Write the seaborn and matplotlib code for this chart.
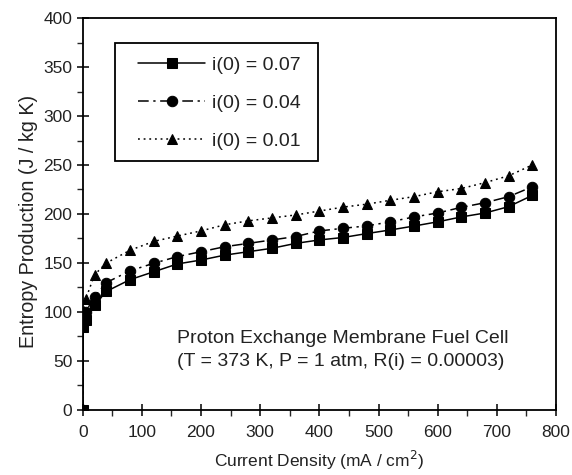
import numpy as np
import pandas as pd
import matplotlib
matplotlib.use("Agg")
import matplotlib.pyplot as plt
import seaborn as sns
from matplotlib.ticker import MultipleLocator
from matplotlib.patches import Rectangle

current_density = [0, 1, 5, 20, 40, 80, 120, 160, 200, 240, 280, 320, 360,
                   400, 440, 480, 520, 560, 600, 640, 680, 720, 760]
entropy_007 = [0, 85, 92, 107, 121, 133, 141, 149, 153, 158, 161.5, 165, 170,
               173.5, 176, 180, 183.7, 187.7, 192, 197, 201, 207.5, 219]
entropy_004 = [0, 88, 100, 115.6, 130, 142, 149.7, 156.5, 161.5, 166.6, 170, 173.5, 177,
               182.7, 185.4, 187.8, 192, 197, 201, 206.8, 211.5, 217.7, 227.8]
entropy_001 = [0, 100, 113, 138, 150, 163, 172, 177.5, 182.7, 189, 193, 196, 199,
               203, 207, 210, 214, 217.7, 222.7, 226, 232, 239, 250]
series_labels = ["i(0) = 0.07", "i(0) = 0.04", "i(0) = 0.01"]

sns.set_style("ticks")
plt.rcParams["font.family"] = ["Liberation Sans", "DejaVu Sans"]

fig = plt.figure(figsize=(5.72, 4.75), dpi=100)
ax = fig.add_axes([0.1446, 0.137, 0.8274, 0.825])

styles = [("s", "-"), ("o", (0, (7, 3, 1.5, 3))), ("^", (0, (1.2, 2.5)))]
for ys, lab, (mk, ls) in zip([entropy_007, entropy_004, entropy_001], series_labels, styles):
    df = pd.DataFrame({"x": current_density, "y": ys})
    sns.lineplot(data=df, x="x", y="y", ax=ax, color="black", marker=mk,
                 linestyle=ls, linewidth=1.1, markersize=7.5, markeredgecolor="black",
                 label=lab, estimator=None, sort=False)

ax.set_xlim(0, 800)
ax.set_ylim(0, 400)
ax.xaxis.set_major_locator(MultipleLocator(100))
ax.xaxis.set_minor_locator(MultipleLocator(50))
ax.yaxis.set_major_locator(MultipleLocator(50))
ax.yaxis.set_minor_locator(MultipleLocator(25))
ax.tick_params(which="major", direction="inout", length=9, width=1.1, labelsize=12.5,
               colors="black", labelcolor="#222222")
ax.tick_params(axis="x", which="major", pad=6)
ax.tick_params(axis="y", which="major", pad=3)
ax.tick_params(which="minor", direction="out", length=4.5, width=1.0)
for s in ax.spines.values():
    s.set_visible(True)
    s.set_linewidth(1.3)
    s.set_color("black")

ax.set_xlabel("Current Density (mA / cm$^2$)", fontsize=12.5, color="#222222", labelpad=7)
ax.set_ylabel("Entropy Production (J / kg K)", fontsize=14.2, color="#222222", labelpad=5)
ax.yaxis.set_label_coords(-0.094, 0.48)

# legend frame
ax.add_patch(Rectangle((0.068, 0.635), 0.429, 0.301, transform=ax.transAxes,
                       fill=True, facecolor="white", edgecolor="black", linewidth=1.3,
                       zorder=4))
leg = ax.legend(loc="center left", bbox_to_anchor=(0.1175, 0.7824), frameon=False,
                fontsize=14, handlelength=3.43, borderpad=0, labelspacing=1.05,
                handletextpad=0.34, borderaxespad=0)
leg.set_zorder(5)
for t in leg.get_texts():
    t.set_color("#222222")

ax.text(0.2, 0.153, "Proton Exchange Membrane Fuel Cell\n(T = 373 K, P = 1 atm, R(i) = 0.00003)",
        transform=ax.transAxes, fontsize=14, color="#222222", ha="left", va="center",
        linespacing=1.4)

fig.savefig("out.png", dpi=100)
